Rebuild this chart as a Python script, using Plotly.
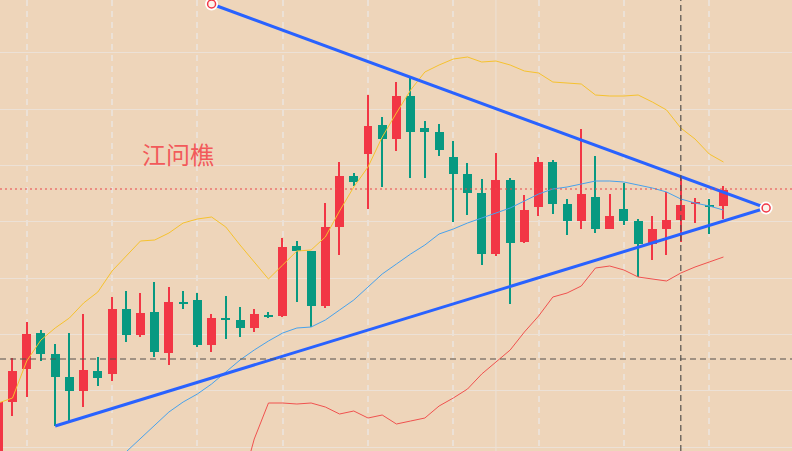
import plotly.graph_objects as go

# candle data (index 0..51), red = up, green = down
opens = [1994.0, 2004.9, 2008.2, 2011.8, 2009.7, 2007.4, 2006.0, 2008.0, 2007.7, 2014.2,
         2011.6, 2013.9, 2009.8, 2014.9, 2015.1, 2010.6, 2013.3, 2013.1, 2012.3, 2013.6,
         2013.5, 2020.5, 2020.0, 2014.5, 2022.4, 2027.5, 2029.7, 2032.6, 2031.2, 2035.5,
         2032.3, 2031.9, 2029.4, 2027.7, 2025.8, 2019.7, 2027.1, 2020.9, 2024.4, 2028.9,
         2024.7, 2023.0, 2025.4, 2022.2, 2024.2, 2023.0, 2020.7, 2022.2, 2023.1, 2024.7,
         2024.6, 2024.5]
highs = [2004.9, 2009.3, 2012.9, 2012.1, 2010.7, 2011.8, 2013.7, 2009.4, 2015.4, 2016.0,
         2015.8, 2016.9, 2016.4, 2016.0, 2015.8, 2013.7, 2015.5, 2014.4, 2014.2, 2013.9,
         2021.3, 2021.0, 2020.0, 2024.8, 2028.9, 2027.8, 2035.6, 2033.4, 2036.9, 2037.3,
         2033.0, 2032.7, 2031.0, 2028.8, 2027.2, 2029.8, 2027.3, 2025.6, 2029.4, 2029.1,
         2025.2, 2032.2, 2029.5, 2025.7, 2026.8, 2023.2, 2023.5, 2025.9, 2027.4, 2025.3,
         2025.2, 2026.5]
lows = [1992.0, 2003.5, 2005.4, 2009.0, 2002.5, 2002.9, 2004.4, 2006.5, 2007.0, 2010.9,
        2011.4, 2009.4, 2008.6, 2014.2, 2010.4, 2009.9, 2011.2, 2011.4, 2011.9, 2013.3,
        2013.4, 2014.9, 2012.4, 2014.3, 2019.6, 2026.5, 2024.2, 2026.4, 2030.0, 2027.3,
        2027.3, 2029.5, 2022.9, 2023.6, 2018.6, 2019.5, 2014.7, 2020.8, 2023.5, 2023.7,
        2021.6, 2022.2, 2021.8, 2022.2, 2022.6, 2017.4, 2019.1, 2019.6, 2020.9, 2022.8,
        2021.7, 2023.2]
closes = [2004.9, 2008.0, 2011.7, 2009.7, 2007.4, 2006.0, 2008.1, 2007.3, 2014.2, 2011.6,
          2013.8, 2009.9, 2014.9, 2014.7, 2010.6, 2013.3, 2013.1, 2012.3, 2013.7, 2013.4,
          2020.4, 2020.0, 2014.5, 2022.4, 2027.5, 2026.9, 2032.5, 2031.2, 2035.5, 2031.9,
          2031.9, 2030.1, 2027.7, 2025.8, 2019.7, 2027.1, 2020.8, 2024.1, 2028.9, 2024.7,
          2023.0, 2025.7, 2022.2, 2023.5, 2023.0, 2020.7, 2022.2, 2023.1, 2024.6, 2024.9,
          2024.4, 2026.1]

# bollinger bands
upper_band = [2004.8, 2005.3, 2009.0, 2011.1, 2012.3, 2013.3, 2014.8, 2015.9, 2018.0, 2019.5,
              2021.0, 2021.1, 2021.8, 2022.8, 2023.2, 2023.4, 2022.4, 2020.6, 2018.9, 2017.2,
              2018.6, 2020.0, 2020.1, 2021.4, 2024.0, 2026.4, 2028.4, 2031.4, 2033.8, 2036.1,
              2037.9, 2038.6, 2039.2, 2039.4, 2038.9, 2039.0, 2038.6, 2038.0, 2037.8, 2036.9,
              2036.8, 2036.7, 2035.6, 2035.5, 2035.5, 2035.6, 2034.9, 2034.1, 2032.3, 2031.2,
              2029.7, 2028.9]
mid_start = 8
mid_band = [1998.6, 1999.9, 2001.2, 2002.6, 2003.9, 2004.9, 2005.7, 2006.7, 2007.9, 2009.1,
            2010.1, 2011.0, 2011.8, 2012.3, 2012.4, 2013.1, 2014.1, 2015.1, 2016.4, 2017.7,
            2018.7, 2019.7, 2020.6, 2021.7, 2022.2, 2022.8, 2023.3, 2023.8, 2024.3, 2025.0,
            2025.7, 2026.2, 2026.4, 2026.7, 2027.0, 2027.0, 2026.9, 2026.6, 2026.3, 2025.9,
            2025.2, 2024.8, 2024.5, 2024.1]
low_start = 17
lower_band = [1996.0, 2001.2, 2004.8, 2004.8, 2004.7, 2004.8, 2004.4, 2003.7, 2004.0, 2003.3,
              2003.6, 2002.7, 2003.0, 2003.3, 2004.5, 2005.3, 2006.2, 2007.7, 2008.9, 2010.1,
              2011.9, 2013.5, 2015.4, 2015.8, 2016.5, 2018.3, 2018.5, 2018.1, 2017.4, 2017.2,
              2017.0, 2017.8, 2018.4, 2018.9, 2019.4]

# triangle trend lines (index, price)
upper_line_x = [15, 54]
upper_line_y = [2044.7, 2024.3]
lower_line_x = [4, 54]
lower_line_y = [2002.5, 2024.3]

h_dash_level = 2009.2
red_dot_level = 2026.2
v_dash_idx = 48
v_solid_idx = 35

RED = '#F23645'
GREEN = '#089981'
BG = '#EED5BA'
GRID = '#ECE1D6'

n = len(opens)
idx = list(range(n))
colors = [RED if c >= o else GREEN for o, c in zip(opens, closes)]

fig = go.Figure()

# wicks
fig.add_trace(go.Bar(
    x=idx, y=[h - l for h, l in zip(highs, lows)], base=lows,
    width=0.1, marker=dict(color=colors, line=dict(width=0)),
    hoverinfo='skip', showlegend=False
))
# bodies
fig.add_trace(go.Bar(
    x=idx, y=[abs(c - o) for o, c in zip(opens, closes)],
    base=[min(o, c) for o, c in zip(opens, closes)],
    width=0.63, marker=dict(color=colors, line=dict(width=0)),
    showlegend=False
))

fig.add_trace(go.Scatter(x=idx, y=upper_band, mode='lines',
                         line=dict(color='#F6C22E', width=1), showlegend=False))
fig.add_trace(go.Scatter(x=list(range(mid_start, mid_start + len(mid_band))), y=mid_band,
                         mode='lines', line=dict(color='#48A2EC', width=1), showlegend=False))
fig.add_trace(go.Scatter(x=list(range(low_start, low_start + len(lower_band))), y=lower_band,
                         mode='lines', line=dict(color='#F0524F', width=1), showlegend=False))

fig.add_trace(go.Scatter(x=upper_line_x, y=upper_line_y, mode='lines',
                         line=dict(color='#2962FF', width=3), showlegend=False))
fig.add_trace(go.Scatter(x=lower_line_x, y=lower_line_y, mode='lines',
                         line=dict(color='#2962FF', width=3), showlegend=False))

# anchor circles
anchor_x = [upper_line_x[0], upper_line_x[1]]
anchor_y = [upper_line_y[0], upper_line_y[1]]
fig.add_trace(go.Scatter(x=anchor_x, y=anchor_y, mode='markers',
                         marker=dict(size=13, color='white'), showlegend=False))
fig.add_trace(go.Scatter(x=anchor_x, y=anchor_y, mode='markers',
                         marker=dict(size=8, color='#FBF3EC', line=dict(color=RED, width=1.5)),
                         showlegend=False))

fig.add_hline(y=h_dash_level, line=dict(color='#55514D', width=1.2, dash='6px,4px'))
fig.add_hline(y=red_dot_level, line=dict(color='#E8464A', width=1, dash='2px,3px'))
fig.add_vline(x=v_dash_idx, line=dict(color='#55514D', width=1.2, dash='6px,4px'))
fig.add_vline(x=v_solid_idx, line=dict(color=GRID, width=1), layer='below')

fig.add_annotation(x=12.64, y=2029.8, text='江问樵', showarrow=False,
                   font=dict(family='Noto Sans CJK SC', size=24, color='#F25A5A'))

fig.update_layout(
    width=792, height=451,
    margin=dict(l=0, r=0, t=0, b=0),
    paper_bgcolor=BG, plot_bgcolor=BG,
    barmode='overlay', bargap=0,
    showlegend=False,
    xaxis=dict(range=[0.12, 55.82], showticklabels=False, zeroline=False,
               showgrid=True, gridcolor=GRID, griddash='6px,5px', gridwidth=1.5,
               tick0=2, dtick=6, ticks=''),
    yaxis=dict(range=[2000, 2045.1], showticklabels=False, zeroline=False,
               showgrid=True, gridcolor=GRID, gridwidth=1,
               tick0=2000.4, dtick=5.63, ticks=''),
)

# page body has a default 8px margin; drop it so the chart fills the window
fig.write_html("out.html", config={'displayModeBar': False},
               post_script="document.body.style.margin='0';document.body.style.overflow='hidden';")
